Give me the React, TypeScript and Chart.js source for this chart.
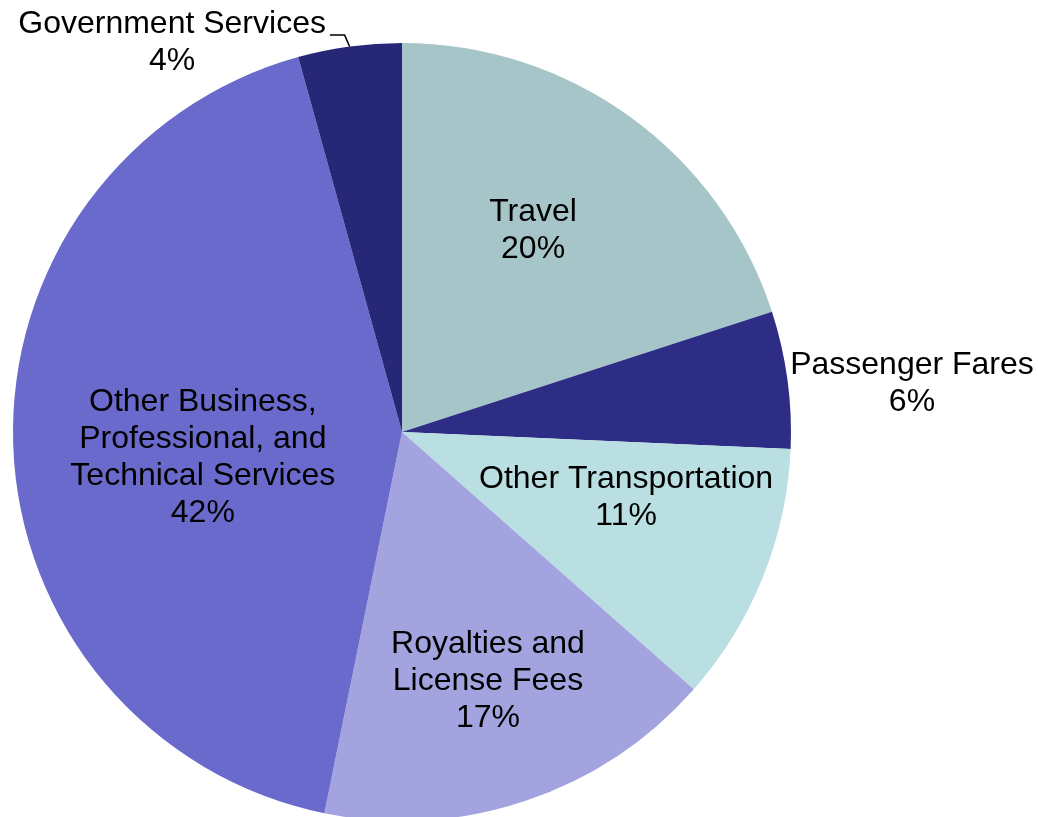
import React, { useEffect, useRef } from "react";
import { Chart, registerables } from "chart.js";

Chart.register(...registerables);

const categories: string[][] = [
  ["Travel"],
  ["Passenger Fares"],
  ["Other Transportation"],
  ["Royalties and", "License Fees"],
  ["Other Business,", "Professional, and", "Technical Services"],
  ["Government Services"],
];
const shares: number[] = [20.0, 5.7, 10.8, 16.7, 42.5, 4.3];
const percentLabels: string[] = ["20%", "6%", "11%", "17%", "42%", "4%"];
const colors: string[] = ["#A5C5C8", "#2E2D86", "#B9DFE2", "#A3A3DF", "#6A6ACC", "#272777"];
// label block centres in units of the pie radius, relative to the pie centre
const labelAnchors: [number, number][] = [
  [0.337, -0.518],
  [1.311, -0.124],
  [0.576, 0.170],
  [0.221, 0.640],
  [-0.512, 0.066],
  [-0.591, -1.001],
];

const FONT = "32px 'Liberation Sans', Arial, sans-serif";
const LINE_H = 37;

const labelPlugin = {
  id: "sliceLabels",
  afterDatasetsDraw(chart: any) {
    const ctx = chart.ctx;
    const meta = chart.getDatasetMeta(0);
    ctx.save();
    ctx.font = FONT;
    ctx.fillStyle = "#000";
    ctx.textAlign = "center";
    ctx.textBaseline = "middle";
    meta.data.forEach((arc: any, i: number) => {
      const { x, y, outerRadius, startAngle, endAngle } = arc.getProps(
        ["x", "y", "outerRadius", "startAngle", "endAngle"],
        true
      );
      const lines = [...categories[i], percentLabels[i]];
      const cx = x + labelAnchors[i][0] * outerRadius;
      const cy = y + labelAnchors[i][1] * outerRadius;
      const top = cy - ((lines.length - 1) * LINE_H) / 2;
      lines.forEach((t, k) => ctx.fillText(t, cx, top + k * LINE_H));
      // leader line for the small outside label
      if (i === 5) {
        const mid = (startAngle + endAngle) / 2;
        const ex = x + Math.cos(mid) * outerRadius;
        const ey = y + Math.sin(mid) * outerRadius;
        const w = ctx.measureText(categories[i][0]).width;
        const textEnd = cx + w / 2 + 4;
        const ly = top + 11;
        ctx.strokeStyle = "#000";
        ctx.lineWidth = 1.5;
        ctx.beginPath();
        ctx.moveTo(ex, ey);
        ctx.lineTo(ex - 5, ly);
        ctx.lineTo(textEnd, ly);
        ctx.stroke();
      }
    });
    ctx.restore();
  },
};

export default function App() {
  const ref = useRef<HTMLCanvasElement | null>(null);
  useEffect(() => {
    document.body.style.overflow = "hidden";
    const canvas = ref.current!;
    const chart = new Chart(canvas, {
      type: "pie",
      data: {
        labels: categories.map((c) => c.join(" ")),
        datasets: [
          {
            data: shares,
            backgroundColor: colors,
            borderWidth: 0,
          },
        ],
      },
      options: {
        responsive: false,
        animation: false,
        layout: { padding: { left: 13, right: 247, top: 43, bottom: 43 } },
        plugins: {
          legend: { display: false },
          tooltip: { enabled: false },
          title: { display: false },
        },
      },
      plugins: [labelPlugin],
    });
    return () => chart.destroy();
  }, []);
  return (
    <div style={{ position: "fixed", left: 0, top: 0, width: 1038, height: 864, background: "#fff" }}>
      <canvas ref={ref} width={1038} height={864} />
    </div>
  );
}
